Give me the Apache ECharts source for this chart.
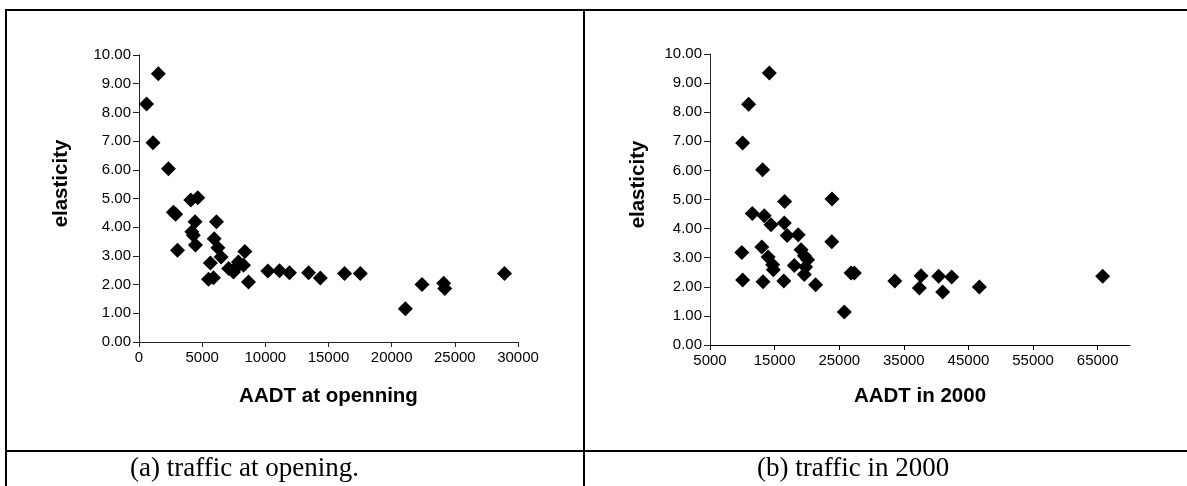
<!DOCTYPE html>
<html>
<head>
<meta charset="utf-8">
<script src="https://cdn.jsdelivr.net/npm/echarts@6/dist/echarts.min.js"></script>
<style>
html,body{margin:0;padding:0;background:#fff;}
#chart{width:1187px;height:486px;}
</style>
</head>
<body>
<div id="chart"></div>
<script>
// (a) traffic at opening
const openAADT = [600, 1530, 1110, 2330, 4100, 4650, 2720, 2900, 4440, 6130, 4180, 4300, 5950, 6250, 3050, 4470, 6500, 8380, 5650, 5500, 5890, 8670, 7100, 7480, 7870, 8270, 7740, 10200, 11120, 11910, 13420, 14350, 16270, 17520, 21080, 22400, 24120, 24200, 28930];
const openElasticity = [8.29, 9.35, 6.94, 6.04, 4.95, 5.03, 4.52, 4.45, 4.19, 4.19, 3.84, 3.72, 3.60, 3.28, 3.20, 3.38, 2.96, 3.15, 2.75, 2.19, 2.24, 2.09, 2.56, 2.44, 2.79, 2.67, 2.62, 2.47, 2.48, 2.41, 2.41, 2.23, 2.39, 2.39, 1.16, 2.00, 2.05, 1.86, 2.39];
// (b) traffic in 2000
const aadt2000 = [14180, 10980, 10050, 13140, 16550, 23880, 11550, 13400, 14440, 16500, 16950, 18650, 23850, 9920, 13020, 14000, 14690, 14800, 19090, 19600, 20110, 18050, 19800, 19600, 10050, 13200, 16420, 21350, 26830, 27340, 25790, 33600, 37660, 37400, 40390, 41010, 42400, 46690, 65770];
const elasticity2000 = [9.35, 8.27, 6.94, 6.02, 4.93, 5.02, 4.52, 4.44, 4.13, 4.19, 3.76, 3.79, 3.55, 3.18, 3.37, 3.02, 2.76, 2.59, 3.27, 3.07, 2.93, 2.73, 2.68, 2.42, 2.23, 2.17, 2.20, 2.07, 2.47, 2.47, 1.13, 2.20, 2.38, 1.96, 2.36, 1.82, 2.34, 1.99, 2.36];
// axis ticks
const yTicks = [0, 1, 2, 3, 4, 5, 6, 7, 8, 9, 10];
const xTicksA = [0, 5000, 10000, 15000, 20000, 25000, 30000];
const xTicksB = [5000, 15000, 25000, 35000, 45000, 55000, 65000];
const captionA = '(a) traffic at opening.';
const captionB = '(b) traffic in 2000';

const FONT = 'Liberation Sans, Arial, sans-serif';
const chart = echarts.init(document.getElementById('chart'), null, {renderer: 'canvas'});

function yAxis(gridIndex, gap) {
  return {
    type: 'value', gridIndex: gridIndex, min: yTicks[0], max: yTicks[yTicks.length - 1], interval: 1,
    name: 'elasticity', nameLocation: 'middle', nameGap: gap, nameRotate: 90,
    nameTextStyle: {fontFamily: FONT, fontWeight: 'bold', fontSize: 20.5, color: '#000', padding: [0, 0, 0, 30]},
    axisLine: {show: true, lineStyle: {color: '#222', width: 1}},
    axisTick: {show: true, length: 6, lineStyle: {color: '#222'}},
    axisLabel: {fontFamily: FONT, fontSize: 15, color: '#000', margin: 8, formatter: v => v.toFixed(2)},
    splitLine: {show: false}
  };
}

const option = {
  animation: false,
  backgroundColor: '#fff',
  grid: [
    {left: 139, top: 55, width: 379, height: 287},
    {left: 710, top: 54, width: 420, height: 291}
  ],
  xAxis: [
    {
      type: 'value', gridIndex: 0, min: xTicksA[0], max: xTicksA[xTicksA.length - 1], interval: 5000,
      name: 'AADT at openning', nameLocation: 'middle', nameGap: 44,
      nameTextStyle: {fontFamily: FONT, fontWeight: 'bold', fontSize: 20.5, color: '#000'},
      axisLine: {show: true, onZero: false, lineStyle: {color: '#222', width: 1}},
      axisTick: {show: true, length: 5, lineStyle: {color: '#222'}},
      axisLabel: {fontFamily: FONT, fontSize: 15, color: '#000', margin: 8, formatter: v => String(v)},
      splitLine: {show: false}
    },
    {
      type: 'value', gridIndex: 1, min: 5000, max: 70000,
      name: 'AADT in 2000', nameLocation: 'middle', nameGap: 41,
      nameTextStyle: {fontFamily: FONT, fontWeight: 'bold', fontSize: 20.5, color: '#000'},
      axisLine: {show: true, onZero: false, lineStyle: {color: '#000', width: 1}},
      axisTick: {show: true, length: 5, lineStyle: {color: '#000'}, customValues: xTicksB},
      axisLabel: {fontFamily: FONT, fontSize: 15, color: '#000', margin: 8, customValues: xTicksB, formatter: v => String(v)},
      splitLine: {show: false}
    }
  ],
  yAxis: [yAxis(0, 67), yAxis(1, 61)],
  series: [
    {
      type: 'scatter', xAxisIndex: 0, yAxisIndex: 0, symbol: 'diamond', symbolSize: 15,
      itemStyle: {color: '#000', opacity: 1},
      data: openAADT.map((v, i) => [v, openElasticity[i]])
    },
    {
      type: 'scatter', xAxisIndex: 1, yAxisIndex: 1, symbol: 'diamond', symbolSize: 15,
      itemStyle: {color: '#000', opacity: 1},
      data: aadt2000.map((v, i) => [v, elasticity2000[i]])
    }
  ],
  graphic: [
    {type: 'line', shape: {x1: 5, y1: 10, x2: 1187, y2: 10}, style: {stroke: '#000', lineWidth: 2}},
    {type: 'line', shape: {x1: 6, y1: 9, x2: 6, y2: 486}, style: {stroke: '#000', lineWidth: 2}},
    {type: 'line', shape: {x1: 584, y1: 9, x2: 584, y2: 486}, style: {stroke: '#000', lineWidth: 2}},
    {type: 'line', shape: {x1: 5, y1: 451, x2: 1187, y2: 451}, style: {stroke: '#000', lineWidth: 2}},
    {type: 'text', left: 130, top: 455, style: {text: captionA, font: '27px "Liberation Serif", "Times New Roman", serif', fill: '#000'}},
    {type: 'text', left: 757, top: 455, style: {text: captionB, font: '27px "Liberation Serif", "Times New Roman", serif', fill: '#000'}}
  ]
};
chart.setOption(option);
</script>
</body>
</html>
